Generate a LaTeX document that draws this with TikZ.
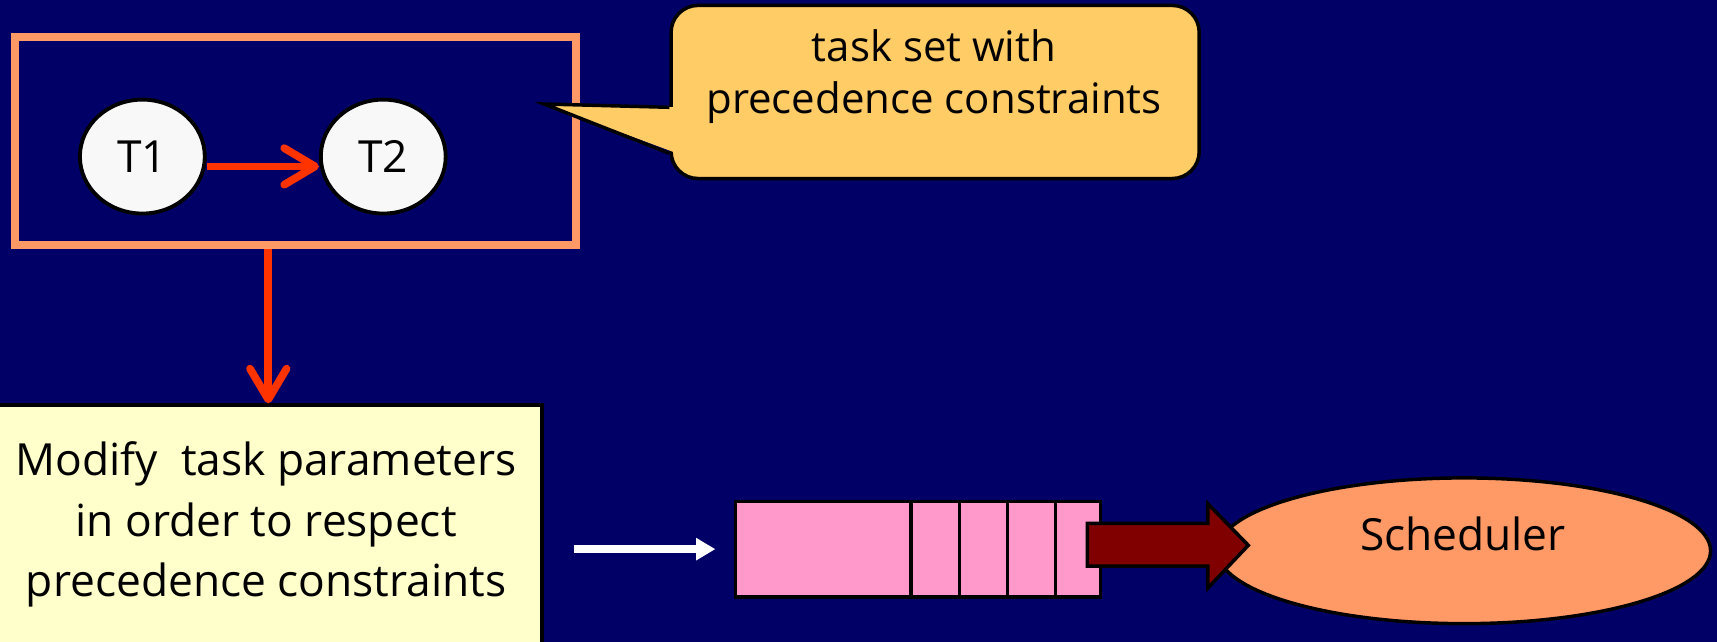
\documentclass[tikz,border=0pt]{standalone}
\usepackage{fontspec}
\setmainfont{Open Sans}
\usetikzlibrary{arrows.meta,shapes.geometric,positioning}
\definecolor{navy}{HTML}{000066}
\definecolor{framecol}{HTML}{FF9966}
\definecolor{redarr}{HTML}{FF3300}
\definecolor{taskfill}{HTML}{F8F8F8}
\definecolor{notefill}{HTML}{FFCC66}
\definecolor{modfill}{HTML}{FFFFCC}
\definecolor{queuefill}{HTML}{FF99CC}
\definecolor{pushfill}{HTML}{800000}
\definecolor{schedfill}{HTML}{FF9966}

\begin{document}
\begin{tikzpicture}[
		x=0.01cm, y=-0.01cm,
		every node/.style={font=\fontsize{11.5}{15.8}\selectfont},
		task/.style = {ellipse,draw,line width=1pt,fill=taskfill,minimum width=1.14cm,minimum height=1.04cm,inner sep=0pt},
		redarrow/.style = {draw=redarr,line width=2pt,-{Straight Barb[length=8pt,width=9.5pt,round]}},
		whitearrow/.style = {draw=white,line width=1.9pt,-{Triangle[length=5pt,width=5.5pt]}},
		outline/.style = {draw=black,line width=0.9pt}
		]

	\useasboundingbox (0,0) rectangle (1568,586);
	\clip (0,0) rectangle (1568,586);
	\fill[navy] (0,0) rectangle (1568,586);

	% task set
	\node [draw=framecol,line width=2pt,minimum width=5.12cm,minimum height=1.9cm] (taskset) at (270,129) {};
	\node [task] (t1) at (130,143) {T1};
	\node [task] (t2) at (350,143) {T2};
	\draw[redarrow] ([yshift=-0.09cm]t1.east) -- ([yshift=-0.09cm]t2.west);

	% callout
	\node [outline,fill=notefill,rounded corners=7pt,minimum width=4.82cm,minimum height=1.58cm] (note) at (854,84) {};
	\node [font=\fontsize{10.9}{13.4}\selectfont,align=center] (notetext) at (853,70) {task set with\\precedence constraints};
	\coordinate (tip) at (497,95);
	\fill[notefill] (tip) -- ([xshift=2pt,yshift=-0.14cm]note.west) -- ([xshift=2pt,yshift=-0.56cm]note.west) -- cycle;
	\draw[line width=0.9pt] ([yshift=-0.14cm]note.west) -- (tip) -- ([yshift=-0.56cm]note.west);

	% modify box
	\node [outline,fill=modfill,minimum width=5cm,minimum height=2.8cm] (modify) at (245,510) {};
	\node [align=center] (modtext) at (243,479) {Modify\ \ task parameters\\in order to respect\\precedence constraints};
	\draw[redarrow] (modify.north |- taskset.south) -- (modify.north);

	% queue
	\node [outline,fill=queuefill,minimum width=3.33cm,minimum height=0.87cm] (queue) at (838.5,501.5) {};
	\foreach \x in {832,876,920,964}
		\draw[line width=0.9pt] (\x,458) -- (\x,545);
	\draw[whitearrow,shorten <=0.27cm,shorten >=0.17cm] (modify.east |- queue.west) -- (queue.west);

	% scheduler
	\node [ellipse,outline,fill=schedfill,minimum width=4.5cm,minimum height=1.33cm] (sched) at (1337,503) {};
	\node (schedtext) at (1336,488) {Scheduler};
	\draw[outline,fill=pushfill] (993,478) -- (1103,478) -- (1103,460) -- (1140,498) -- (1103,537) -- (1103,517) -- (993,517) -- cycle;
\end{tikzpicture}
\end{document}
